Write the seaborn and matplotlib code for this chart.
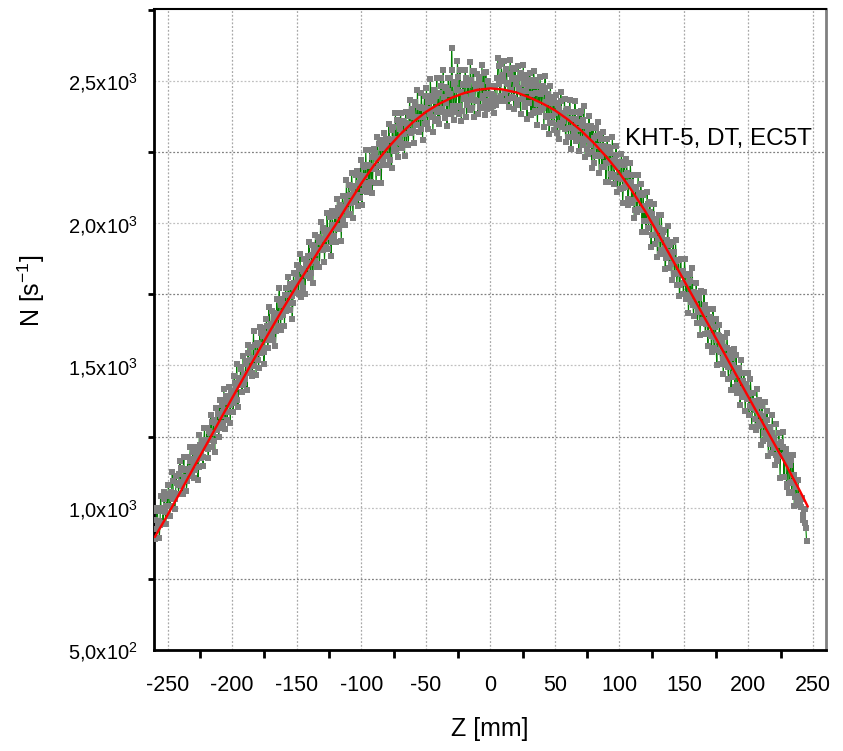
import numpy as np
import pandas as pd
import matplotlib
matplotlib.use("Agg")
import matplotlib.pyplot as plt
import seaborn as sns
from matplotlib.ticker import MultipleLocator, FixedLocator, FixedFormatter

# ---------------- data ----------------
# pass 1: integer mm positions, pass 2: half-mm positions
z_pass1 = np.arange(-260, 246, 1.0)
z_pass2 = np.arange(-259.5, 245, 1.0)

counts_pass1 = [
    957, 925, 988, 955, 938, 991, 989, 1032, 985, 1007,
    1005, 1048, 1006, 1049, 1093, 1051, 1029, 1087, 1080, 1119,
    1092, 1075, 1134, 1107, 1135, 1094, 1137, 1165, 1138, 1172,
    1160, 1133, 1191, 1170, 1143, 1221, 1199, 1177, 1231, 1209,
    1237, 1205, 1268, 1237, 1300, 1263, 1236, 1299, 1273, 1331,
    1284, 1322, 1360, 1299, 1342, 1370, 1308, 1376, 1360, 1408,
    1391, 1369, 1437, 1425, 1378, 1447, 1430, 1488, 1431, 1469,
    1452, 1505, 1543, 1486, 1519, 1473, 1526, 1499, 1572, 1545,
    1518, 1571, 1614, 1562, 1605, 1548, 1600, 1638, 1591, 1629,
    1647, 1610, 1683, 1655, 1623, 1681, 1729, 1672, 1714, 1677,
    1715, 1748, 1690, 1748, 1720, 1788, 1745, 1718, 1790, 1778,
    1755, 1802, 1844, 1792, 1839, 1771, 1828, 1855, 1818, 1885,
    1862, 1824, 1887, 1919, 1866, 1894, 1846, 1933, 1905, 1943,
    1905, 1972, 1944, 1916, 1978, 1950, 2021, 1933, 1995, 1982,
    2024, 1986, 2054, 1981, 2034, 2051, 2013, 2096, 2048, 2076,
    2028, 2100, 2072, 2125, 2102, 2074, 2171, 2098, 2141, 2088,
    2160, 2112, 2198, 2165, 2141, 2203, 2129, 2201, 2232, 2189,
    2240, 2191, 2226, 2177, 2278, 2229, 2264, 2215, 2266, 2296,
    2237, 2297, 2222, 2292, 2327, 2272, 2297, 2257, 2362, 2297,
    2332, 2281, 2361, 2315, 2354, 2279, 2348, 2377, 2326, 2396,
    2325, 2374, 2417, 2346, 2374, 2408, 2332, 2405, 2374, 2447,
    2401, 2354, 2427, 2384, 2447, 2400, 2428, 2361, 2448, 2391,
    2459, 2401, 2483, 2391, 2443, 2480, 2422, 2464, 2392, 2509,
    2616, 2413, 2489, 2391, 2468, 2515, 2411, 2463, 2395, 2491,
    2443, 2509, 2415, 2486, 2397, 2504, 2455, 2536, 2432, 2473,
    2429, 2500, 2410, 2486, 2446, 2527, 2422, 2453, 2428, 2484,
    2424, 2438, 2413, 2448, 2427, 2442, 2582, 2491, 2446, 2515,
    2520, 2459, 2538, 2492, 2436, 2525, 2469, 2508, 2442, 2541,
    2490, 2433, 2512, 2465, 2528, 2437, 2490, 2408, 2466, 2505,
    2423, 2486, 2454, 2387, 2505, 2458, 2420, 2483, 2391, 2454,
    2462, 2405, 2477, 2425, 2372, 2440, 2352, 2425, 2377, 2445,
    2387, 2424, 2346, 2402, 2354, 2431, 2358, 2380, 2331, 2393,
    2400, 2336, 2367, 2304, 2390, 2331, 2367, 2303, 2390, 2331,
    2297, 2343, 2363, 2294, 2314, 2260, 2331, 2286, 2342, 2252,
    2298, 2238, 2308, 2273, 2238, 2313, 2238, 2273, 2198, 2258,
    2213, 2267, 2217, 2246, 2161, 2220, 2169, 2239, 2198, 2158,
    2207, 2156, 2214, 2123, 2171, 2140, 2178, 2087, 2135, 2144,
    2082, 2120, 2048, 2126, 2084, 2102, 2050, 2108, 2046, 2009,
    2062, 2009, 2066, 2008, 2040, 1958, 2010, 1957, 2014, 1976,
    1943, 1985, 1907, 1953, 1970, 1912, 1879, 1931, 1892, 1924,
    1856, 1883, 1900, 1826, 1868, 1825, 1872, 1784, 1820, 1832,
    1789, 1821, 1748, 1789, 1746, 1798, 1755, 1712, 1758, 1710,
    1742, 1689, 1736, 1687, 1649, 1696, 1713, 1645, 1661, 1613,
    1650, 1602, 1649, 1600, 1637, 1554, 1591, 1603, 1549, 1571,
    1523, 1565, 1532, 1563, 1495, 1522, 1544, 1461, 1502, 1469,
    1491, 1433, 1465, 1481, 1418, 1390, 1447, 1409, 1435, 1382,
    1399, 1356, 1403, 1349, 1376, 1313, 1345, 1357, 1303, 1330,
    1292, 1324, 1261, 1292, 1309, 1246, 1263, 1225, 1261, 1223,
    1245, 1187, 1224, 1185, 1222, 1219, 1181, 1213, 1179, 1206,
    1083, 1165, 1086, 1168, 1089, 1116, 1037, 1074, 1030, 1042,
    1018, 1029, 975, 996, 947, 884,
]

counts_pass2 = [
    891, 999, 947, 894, 1042, 1000, 948, 1056, 944, 1041,
    1079, 972, 1055, 1124, 1032, 995, 1113, 1086, 1050, 1163,
    1141, 1050, 1178, 1136, 1060, 1178, 1121, 1214, 1113, 1196,
    1104, 1212, 1176, 1099, 1257, 1175, 1238, 1147, 1280, 1223,
    1281, 1174, 1263, 1326, 1214, 1307, 1195, 1349, 1292, 1250,
    1378, 1281, 1335, 1418, 1276, 1394, 1337, 1426, 1299, 1412,
    1335, 1463, 1396, 1504, 1353, 1456, 1494, 1407, 1535, 1438,
    1516, 1414, 1572, 1475, 1564, 1462, 1620, 1523, 1466, 1579,
    1492, 1635, 1543, 1631, 1504, 1611, 1664, 1562, 1705, 1613,
    1691, 1589, 1662, 1569, 1732, 1640, 1773, 1626, 1733, 1686,
    1639, 1771, 1704, 1811, 1694, 1776, 1664, 1826, 1764, 1821,
    1853, 1751, 1893, 1740, 1832, 1875, 1752, 1874, 1816, 1934,
    1806, 1923, 1790, 1908, 1960, 1857, 1950, 1847, 2004, 1906,
    1983, 1865, 1967, 2035, 1911, 1973, 1885, 2042, 1954, 2041,
    1933, 2085, 1992, 2065, 1937, 2095, 2057, 1994, 2152, 2034,
    2136, 2034, 2176, 2018, 2130, 2088, 2185, 2062, 2169, 2221,
    2063, 2205, 2126, 2258, 2110, 2201, 2258, 2144, 2106, 2262,
    2248, 2143, 2304, 2200, 2291, 2141, 2272, 2318, 2203, 2274,
    2204, 2349, 2294, 2194, 2339, 2254, 2389, 2284, 2234, 2354,
    2389, 2263, 2353, 2237, 2391, 2346, 2275, 2434, 2318, 2403,
    2282, 2425, 2344, 2467, 2321, 2410, 2458, 2292, 2405, 2349,
    2477, 2330, 2438, 2506, 2373, 2321, 2469, 2402, 2510, 2367,
    2350, 2512, 2400, 2537, 2369, 2476, 2343, 2511, 2453, 2385,
    2537, 2364, 2495, 2407, 2569, 2385, 2537, 2359, 2485, 2437,
    2538, 2375, 2501, 2432, 2568, 2405, 2536, 2372, 2488, 2524,
    2384, 2515, 2406, 2556, 2442, 2382, 2533, 2403, 2499, 2424,
    2404, 2453, 2388, 2482, 2417, 2511, 2551, 2430, 2560, 2500,
    2569, 2428, 2542, 2491, 2410, 2574, 2443, 2547, 2401, 2510,
    2414, 2552, 2476, 2384, 2512, 2556, 2419, 2522, 2365, 2484,
    2527, 2380, 2483, 2536, 2394, 2501, 2344, 2457, 2515, 2398,
    2481, 2338, 2516, 2378, 2456, 2313, 2481, 2353, 2421, 2328,
    2451, 2317, 2414, 2296, 2463, 2339, 2386, 2438, 2285, 2401,
    2303, 2434, 2261, 2392, 2323, 2429, 2290, 2357, 2253, 2389,
    2395, 2275, 2411, 2232, 2342, 2243, 2378, 2274, 2195, 2335,
    2211, 2336, 2241, 2356, 2176, 2296, 2196, 2321, 2251, 2146,
    2295, 2145, 2264, 2174, 2303, 2137, 2222, 2271, 2111, 2215,
    2119, 2243, 2071, 2205, 2128, 2227, 2065, 2169, 2212, 2071,
    2169, 2017, 2125, 2038, 2171, 2049, 2137, 1970, 2098, 2051,
    1968, 2110, 1982, 2074, 1917, 2034, 2066, 1928, 1995, 1882,
    2029, 1891, 2028, 1899, 1976, 1838, 1940, 1992, 1843, 1900,
    1802, 1934, 1821, 1942, 1784, 1871, 1743, 1875, 1821, 1753,
    1875, 1732, 1819, 1685, 1822, 1724, 1841, 1673, 1754, 1791,
    1648, 1755, 1607, 1763, 1660, 1757, 1609, 1686, 1567, 1699,
    1671, 1548, 1700, 1561, 1663, 1500, 1607, 1644, 1505, 1587,
    1469, 1601, 1503, 1614, 1451, 1553, 1415, 1527, 1558, 1425,
    1537, 1404, 1491, 1362, 1519, 1396, 1473, 1340, 1421, 1473,
    1325, 1452, 1284, 1405, 1362, 1274, 1416, 1288, 1379, 1221,
    1358, 1235, 1372, 1243, 1340, 1182, 1284, 1191, 1327, 1209,
    1151, 1293, 1165, 1261, 1103, 1230, 1267, 1109, 1185, 1072,
    1184, 1051, 1152, 1054, 1185, 1007, 1098, 1010, 1096, 1008,
    1004, 1035, 956, 997, 928,
]

fit_z = [-260, -250, -240, -230, -220, -210, -200, -190, -180, -170,
         -160, -150, -140, -130, -120, -110, -100, -90, -80, -70,
         -60, -50, -40, -30, -20, -10, 0, 10, 20, 30,
         40, 50, 60, 70, 80, 90, 100, 110, 120, 130,
         140, 150, 160, 170, 180, 190, 200, 210, 220, 230,
         240, 246]
fit_n = [897, 975, 1057, 1140, 1222, 1304, 1386, 1467, 1548, 1627,
         1705, 1780, 1852, 1925, 1994, 2068, 2140, 2205, 2262, 2312,
         2355, 2391, 2419, 2441, 2458, 2469, 2474, 2470, 2460, 2443,
         2422, 2397, 2365, 2327, 2283, 2233, 2177, 2112, 2042, 1963,
         1881, 1799, 1717, 1635, 1553, 1471, 1389, 1307, 1225, 1143,
         1058, 1004]

y_ticks = [500, 1000, 1500, 2000, 2500]
y_tick_labels = ["5,0x10$^{2}$", "1,0x10$^{3}$", "1,5x10$^{3}$",
                 "2,0x10$^{3}$", "2,5x10$^{3}$"]
x_ticks = [-250, -200, -150, -100, -50, 0, 50, 100, 150, 200, 250]

label_text = "KHT-5, DT, EC5T"

# ---------------- style ----------------
sns.set_style("white")
plt.rcParams["font.family"] = ["Liberation Sans", "DejaVu Sans"]
plt.rcParams["mathtext.fontset"] = "custom"
plt.rcParams["mathtext.rm"] = "Liberation Sans"
plt.rcParams["mathtext.it"] = "Liberation Sans"
plt.rcParams["mathtext.default"] = "regular"
plt.rcParams["axes.unicode_minus"] = False

fig = plt.figure(figsize=(8.43, 7.51), dpi=100)
ax = fig.add_axes([0.183, 0.1345, 0.7964, 0.8531])

df = pd.concat([
    pd.DataFrame({"z": z_pass1, "n": counts_pass1}),
    pd.DataFrame({"z": z_pass2, "n": counts_pass2}),
]).sort_values("z", kind="stable").reset_index(drop=True)

sns.lineplot(data=df, x="z", y="n", color="#008000", lw=0.8,
             estimator=None, sort=False, ax=ax, zorder=2)
sns.scatterplot(data=df, x="z", y="n", marker="s", color="#808080",
                s=16, linewidth=0, ax=ax, zorder=3)
fit_df = pd.DataFrame({"z": fit_z, "n": fit_n})
sns.lineplot(data=fit_df, x="z", y="n", color="#ff0000", lw=1.7,
             estimator=None, sort=False, ax=ax, zorder=4)

ax.set_xlim(-260.4, 259.8)
ax.set_ylim(500, 2752)

ax.xaxis.set_major_locator(FixedLocator(x_ticks))
ax.xaxis.set_minor_locator(MultipleLocator(25))
ax.yaxis.set_major_locator(FixedLocator(y_ticks))
ax.yaxis.set_major_formatter(FixedFormatter(y_tick_labels))
ax.yaxis.set_minor_locator(MultipleLocator(250))

ax.tick_params(axis="both", which="major", direction="out", width=2,
               color="black", labelcolor="black")
ax.tick_params(axis="x", which="major", length=12, pad=6, labelsize=15.5)
ax.tick_params(axis="y", which="major", length=9, pad=3, labelsize=14.5)
ax.tick_params(axis="x", which="minor", direction="out", length=6, width=2,
               color="black", bottom=True)
ax.tick_params(axis="y", which="minor", direction="out", length=4, width=2,
               color="black", left=True)

# grid
ax.grid(False)
for xv in x_ticks:
    ax.axvline(xv, color="#a8a8a8", lw=0.9, ls=(0, (1.5, 1.5)), zorder=1)
for yv in [750, 1000, 1250, 1500, 1750, 2000, 2250, 2500]:
    col = "#808080" if yv % 500 else "#c0c0c0"
    ax.axhline(yv, color=col, lw=0.9, ls=(0, (1.5, 1.5)), zorder=1)

for side in ["left", "bottom"]:
    ax.spines[side].set_color("black")
    ax.spines[side].set_linewidth(2)
ax.spines["top"].set_color("black")
ax.spines["top"].set_linewidth(1.5)
ax.spines["right"].set_color("#808080")
ax.spines["right"].set_linewidth(2)

ax.set_xlabel("Z [mm]", fontsize=18, labelpad=15, color="black")
ax.set_ylabel("N [s$^{-1}$]", fontsize=18, color="black")
ax.yaxis.set_label_coords(-0.16, 0.56)

ax.text(104.5, 2295, label_text, fontsize=17.5, ha="left", va="center",
        color="black", zorder=5)

fig.savefig("out.png", dpi=100)
